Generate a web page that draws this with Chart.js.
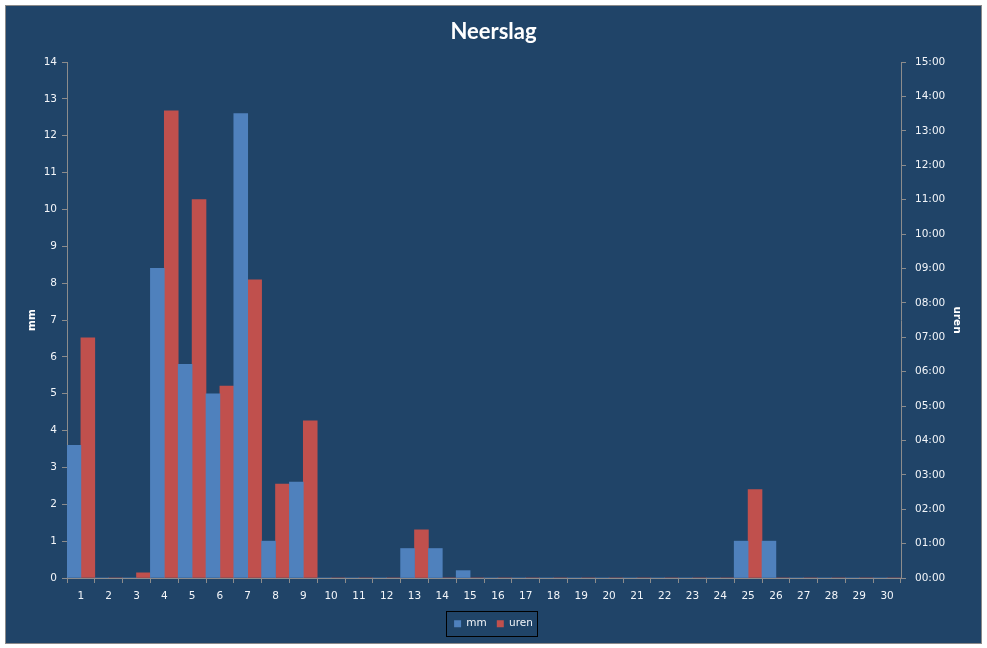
<!DOCTYPE html>
<html>
<head>
<meta charset="utf-8">
<title>Neerslag</title>
<script src="https://cdn.jsdelivr.net/npm/chart.js@4"></script>
<style>
  html, body { margin: 0; padding: 0; background: #ffffff; }
  #frame {
    position: absolute; left: 5px; top: 5px;
    width: 975px; height: 637px;
    border: 1px solid #8a8a8a;
    background: #204468;
  }
  #frame canvas { display: block; }
</style>
</head>
<body>
<div id="frame"><canvas id="rainChart" width="975" height="637"></canvas></div>
<script>
// dagen van de maand
const days = ['1','2','3','4','5','6','7','8','9','10','11','12','13','14','15',
  '16','17','18','19','20','21','22','23','24','25','26','27','28','29','30'];
// neerslag in mm
const mm = [3.6, 0, 0, 8.4, 5.8, 5.0, 12.6, 1.0, 2.6, 0, 0, 0, 0.8, 0.8, 0.2,
  0, 0, 0, 0, 0, 0, 0, 0, 0, 1.0, 1.0, 0, 0, 0, 0];
// duur van de neerslag in uren
const uren = [6.98, 0, 0.15, 13.58, 11.0, 5.58, 8.67, 2.73, 4.57, 0, 0, 0, 1.4, 0, 0,
  0, 0, 0, 0, 0, 0, 0, 0, 0, 2.57, 0, 0, 0, 0, 0];

const axisGrey = '#8c8c8c';
const textColor = '#f2f5f9';
const tickFont = { family: 'DejaVu Sans', size: 10.5 };

// kader om de legenda, zoals in Excel
const legendBox = {
  id: 'legendBox',
  afterDraw(chart) {
    const boxes = chart.legend && chart.legend.legendHitBoxes;
    if (!boxes || !boxes.length) return;
    const first = boxes[0];
    const last = boxes[boxes.length - 1];
    const cy = first.top + first.height / 2;
    const left = Math.round(first.left - 8);
    const ctx = chart.ctx;
    ctx.save();
    ctx.strokeStyle = '#000000';
    ctx.lineWidth = 1;
    ctx.strokeRect(left + 0.5, Math.round(cy - 12.5) + 0.5,
      Math.round(last.left + last.width + 4) - left, 25);
    ctx.restore();
  }
};

new Chart(document.getElementById('rainChart').getContext('2d'), {
  type: 'bar',
  data: {
    labels: days,
    datasets: [
      { label: 'mm', data: mm, backgroundColor: '#4f81bd', yAxisID: 'y',
        barPercentage: 1, categoryPercentage: 1, borderWidth: 0 },
      { label: 'uren', data: uren, backgroundColor: '#c0504d', yAxisID: 'y2',
        barPercentage: 1, categoryPercentage: 1, borderWidth: 0 }
    ]
  },
  options: {
    responsive: false,
    animation: false,
    layout: { padding: { bottom: 4 } },
    plugins: {
      title: {
        display: true,
        text: 'Neerslag',
        color: '#ffffff',
        font: { family: 'Lato', size: 22, weight: 'bold' },
        padding: { top: 13, bottom: 16.6 }
      },
      legend: {
        position: 'bottom',
        labels: {
          color: textColor,
          font: tickFont,
          boxWidth: 7,
          boxHeight: 7,
          padding: 10
        }
      },
      tooltip: { enabled: false }
    },
    scales: {
      x: {
        offset: true,
        grid: { offset: true, drawOnChartArea: false, drawTicks: true, tickLength: 5, color: axisGrey },
        border: { display: true, color: axisGrey },
        ticks: { color: textColor, font: tickFont, padding: 7, maxRotation: 0, autoSkip: false },
        afterFit(scale) { scale.height = 30.5; }
      },
      y: {
        position: 'left',
        min: 0,
        max: 14,
        grid: { drawOnChartArea: false, drawTicks: true, tickLength: 5, color: axisGrey },
        border: { display: true, color: axisGrey },
        ticks: { stepSize: 1, color: textColor, font: tickFont, padding: 5 },
        title: {
          display: true, text: 'mm', color: '#ffffff',
          font: { family: 'DejaVu Sans', size: 10.5, weight: 'bold' },
          padding: { top: 20, bottom: 0 }
        },
        afterFit(scale) { scale.width = 61; }
      },
      y2: {
        position: 'right',
        min: 0,
        max: 15,
        grid: { drawOnChartArea: false, drawTicks: true, tickLength: 5, color: axisGrey },
        border: { display: true, color: axisGrey },
        ticks: {
          stepSize: 1, color: textColor, font: tickFont, padding: 9,
          callback: v => String(v).padStart(2, '0') + ':00'
        },
        title: {
          display: true, text: 'uren', color: '#ffffff',
          font: { family: 'DejaVu Sans', size: 10.5, weight: 'bold' },
          padding: { top: 18, bottom: 0 }
        },
        afterFit(scale) { scale.width = 80; }
      }
    }
  },
  plugins: [legendBox]
});
</script>
</body>
</html>
